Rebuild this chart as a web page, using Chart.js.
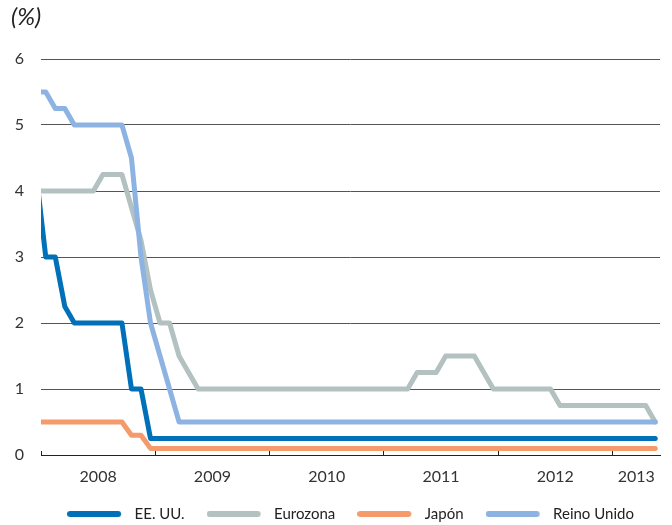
<!DOCTYPE html>
<html><head><meta charset="utf-8">
<script src="https://cdn.jsdelivr.net/npm/chart.js@4"></script>
<style>html,body{margin:0;padding:0;background:#fff}#wrap{width:672px;height:525px}</style>
</head><body><div id="wrap"><canvas id="c" width="672" height="525"></canvas></div>
<script>
// Monthly end-of-month policy rates (%), Dec 2007 - May 2013
const months = [
  '2007-12',
  '2008-01','2008-02','2008-03','2008-04','2008-05','2008-06','2008-07','2008-08','2008-09','2008-10','2008-11','2008-12',
  '2009-01','2009-02','2009-03','2009-04','2009-05','2009-06','2009-07','2009-08','2009-09','2009-10','2009-11','2009-12',
  '2010-01','2010-02','2010-03','2010-04','2010-05','2010-06','2010-07','2010-08','2010-09','2010-10','2010-11','2010-12',
  '2011-01','2011-02','2011-03','2011-04','2011-05','2011-06','2011-07','2011-08','2011-09','2011-10','2011-11','2011-12',
  '2012-01','2012-02','2012-03','2012-04','2012-05','2012-06','2012-07','2012-08','2012-09','2012-10','2012-11','2012-12',
  '2013-01','2013-02','2013-03','2013-04','2013-05'
];
const years = ['2008','2009','2010','2011','2012','2013'];
const yTicks = [0,1,2,3,4,5,6];

const eeuu = [
  4.25,
  3.00,3.00,2.25,2.00,2.00,2.00,2.00,2.00,2.00,1.00,1.00,0.25,
  0.25,0.25,0.25,0.25,0.25,0.25,0.25,0.25,0.25,0.25,0.25,0.25,
  0.25,0.25,0.25,0.25,0.25,0.25,0.25,0.25,0.25,0.25,0.25,0.25,
  0.25,0.25,0.25,0.25,0.25,0.25,0.25,0.25,0.25,0.25,0.25,0.25,
  0.25,0.25,0.25,0.25,0.25,0.25,0.25,0.25,0.25,0.25,0.25,0.25,
  0.25,0.25,0.25,0.25,0.25
];
const eurozona = [
  4.00,
  4.00,4.00,4.00,4.00,4.00,4.00,4.25,4.25,4.25,3.75,3.25,2.50,
  2.00,2.00,1.50,1.25,1.00,1.00,1.00,1.00,1.00,1.00,1.00,1.00,
  1.00,1.00,1.00,1.00,1.00,1.00,1.00,1.00,1.00,1.00,1.00,1.00,
  1.00,1.00,1.00,1.25,1.25,1.25,1.50,1.50,1.50,1.50,1.25,1.00,
  1.00,1.00,1.00,1.00,1.00,1.00,0.75,0.75,0.75,0.75,0.75,0.75,
  0.75,0.75,0.75,0.75,0.50
];
const japon = [
  0.50,
  0.50,0.50,0.50,0.50,0.50,0.50,0.50,0.50,0.50,0.30,0.30,0.10,
  0.10,0.10,0.10,0.10,0.10,0.10,0.10,0.10,0.10,0.10,0.10,0.10,
  0.10,0.10,0.10,0.10,0.10,0.10,0.10,0.10,0.10,0.10,0.10,0.10,
  0.10,0.10,0.10,0.10,0.10,0.10,0.10,0.10,0.10,0.10,0.10,0.10,
  0.10,0.10,0.10,0.10,0.10,0.10,0.10,0.10,0.10,0.10,0.10,0.10,
  0.10,0.10,0.10,0.10,0.10
];
const reinoUnido = [
  5.50,
  5.50,5.25,5.25,5.00,5.00,5.00,5.00,5.00,5.00,4.50,3.00,2.00,
  1.50,1.00,0.50,0.50,0.50,0.50,0.50,0.50,0.50,0.50,0.50,0.50,
  0.50,0.50,0.50,0.50,0.50,0.50,0.50,0.50,0.50,0.50,0.50,0.50,
  0.50,0.50,0.50,0.50,0.50,0.50,0.50,0.50,0.50,0.50,0.50,0.50,
  0.50,0.50,0.50,0.50,0.50,0.50,0.50,0.50,0.50,0.50,0.50,0.50,
  0.50,0.50,0.50,0.50,0.50
];

// month label -> months since Jan 2008, point centred in its month
function monthPos(label){ const p = label.split('-').map(Number); return (p[0]-2008)*12 + (p[1]-1) + 0.5; }
const xMax = monthPos(months[months.length-1]) + 0.5;
const yearStarts = years.map(y => (Number(y)-2008)*12);
const yearMids = yearStarts.map(s => (s + Math.min(s+12, xMax)) / 2);
function pts(arr){ return months.map((m,i) => ({x: monthPos(m), y: arr[i]})); }

// legend swatch: a thick rounded line at the left of a wider box
function swatch(color){
  const c = document.createElement('canvas'); c.width = 60; c.height = 10;
  const g = c.getContext('2d'); g.strokeStyle = color; g.lineWidth = 6; g.lineCap = 'round';
  g.beginPath(); g.moveTo(3, 5); g.lineTo(51, 5); g.stroke();
  return c;
}

Chart.defaults.font.family = 'Lato';
const common = {pointRadius:0, borderWidth:5, tension:0, borderJoinStyle:'round', borderCapStyle:'round', fill:false, clip:{left:0,right:6,top:6,bottom:6}};

const pctLabel = {
  id:'pctLabel',
  afterDraw(chart){
    const ctx = chart.ctx; ctx.save();
    ctx.font = 'italic 24px Lato'; ctx.fillStyle = '#222'; ctx.textBaseline = 'alphabetic';
    ctx.fillText('(%)', 11, 25); ctx.restore();
  }
};

new Chart(document.getElementById('c'), {
  type:'line',
  data:{ datasets:[
    Object.assign({label:'EE. UU.', data:pts(eeuu), borderColor:'#0070b8', backgroundColor:'#0070b8', order:0}, common),
    Object.assign({label:'Eurozona', data:pts(eurozona), borderColor:'#b3c1c1', backgroundColor:'#b3c1c1', order:2}, common),
    Object.assign({label:'Japón', data:pts(japon), borderColor:'#f59a6a', backgroundColor:'#f59a6a', order:3}, common),
    Object.assign({label:'Reino Unido', data:pts(reinoUnido), borderColor:'#8db3e2', backgroundColor:'#8db3e2', order:1}, common)
  ]},
  options:{
    responsive:false, animation:false, devicePixelRatio:1,
    layout:{padding:{left:0,right:12,top:59,bottom:0}},
    plugins:{
      tooltip:{enabled:false},
      legend:{position:'bottom', fullSize:false, maxHeight:40.5,
        labels:{usePointStyle:true, pointStyleWidth:60, padding:22, color:'#222', font:{size:15},
          sort:(a,b)=>a.datasetIndex-b.datasetIndex,
          generateLabels(chart){
            const items = Chart.defaults.plugins.legend.labels.generateLabels(chart);
            items.forEach(it => { it.pointStyle = swatch(it.strokeStyle); });
            return items;
          }}}
    },
    scales:{
      x:{type:'linear', min:0, max:xMax,
        afterBuildTicks:s=>{ s.ticks = yearStarts.map(v=>({value:v})); },
        ticks:{display:false},
        grid:{drawOnChartArea:false, drawTicks:true, tickLength:-4, color:'#222', lineWidth:1},
        border:{display:true, color:'#222', width:1},
        afterFit:s=>{ s.height = 6; }},
      x2:{type:'linear', position:'bottom', min:0, max:xMax,
        afterBuildTicks:s=>{ s.ticks = yearMids.map(v=>({value:v})); },
        ticks:{padding:6, color:'#333', font:{size:16}, maxRotation:0, autoSkip:false, callback:(v,i)=>years[i]},
        grid:{display:false, drawTicks:false, tickLength:0}, border:{display:false},
        afterFit:s=>{ s.height = 23.5; }},
      y:{min:0, max:6,
        afterBuildTicks:s=>{ s.ticks = yTicks.map(v=>({value:v})); },
        ticks:{padding:17, color:'#333', font:{size:16}},
        grid:{color:'#555', drawTicks:false, lineWidth:1},
        border:{display:false},
        afterFit:s=>{ s.width = 41; }}
    }
  },
  plugins:[pctLabel]
});
</script></body></html>
